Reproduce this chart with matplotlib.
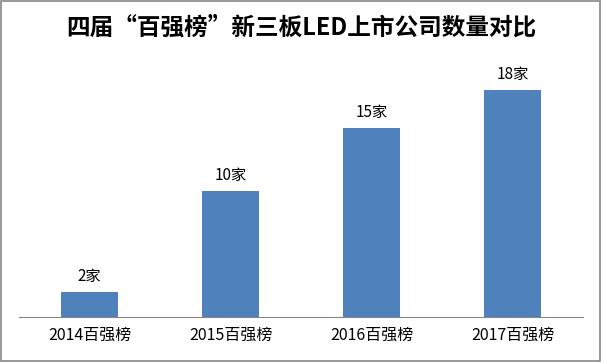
import matplotlib.pyplot as plt
from matplotlib.patches import Rectangle

plt.rcParams['font.family'] = ['Noto Sans CJK SC', 'DejaVu Sans']

categories = ['2014百强榜', '2015百强榜', '2016百强榜', '2017百强榜']
counts = [2, 10, 15, 18]
labels = ['2家', '10家', '15家', '18家']

fig = plt.figure(figsize=(6.02, 3.62), dpi=100)
ax = fig.add_axes([19 / 602, 45 / 362, 564 / 602, 250 / 362])

bars = ax.bar(range(len(categories)), counts, width=0.4, color='#4F81BD')
for b, lab in zip(bars, labels):
    ax.text(b.get_x() + b.get_width() / 2, b.get_height() + 0.5, lab,
            ha='center', va='bottom', fontsize=11)

ax.set_xlim(-0.5, len(categories) - 0.5)
ax.set_ylim(0, 19.8)
ax.set_xticks(range(len(categories)))
ax.set_xticklabels(categories, fontsize=11.5)
ax.tick_params(axis='x', length=0, pad=7)
ax.set_yticks([])
for s in ['top', 'right', 'left']:
    ax.spines[s].set_visible(False)
ax.spines['bottom'].set_color('#868686')

fig.text(0.5, 1 - 28 / 362, '四届“百强榜”新三板LED上市公司数量对比',
         ha='center', va='center', fontsize=17, fontweight='bold')

fig.patches.append(Rectangle((0.002, 0.003), 0.995, 0.994, transform=fig.transFigure,
                             fill=False, edgecolor='#868686', linewidth=1.2))

fig.savefig('out.png', dpi=100)
